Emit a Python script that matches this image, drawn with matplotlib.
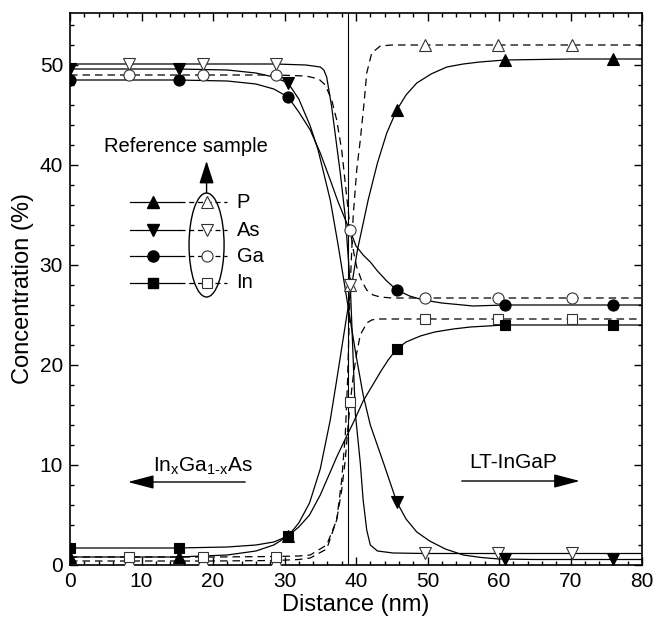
import matplotlib
matplotlib.use("Agg")
import matplotlib.pyplot as plt
from matplotlib.patches import Ellipse, FancyArrowPatch
from matplotlib.ticker import MultipleLocator

plt.rcParams['font.family'] = ['Liberation Sans', 'DejaVu Sans']
plt.rcParams['mathtext.fontset'] = 'custom'
plt.rcParams['mathtext.rm'] = 'Liberation Sans'
plt.rcParams['mathtext.it'] = 'Liberation Sans'

elements = ["P", "As", "Ga", "In"]

# LT-InGaP sample: measured points (filled symbols)
lt_x = [0, 15.2, 30.5, 45.7, 60.8, 76.0]
lt_P = [0.8, 0.8, 2.9, 45.5, 50.5, 50.6]
lt_As = [49.6, 49.6, 48.2, 6.3, 0.6, 0.6]
lt_Ga = [48.5, 48.5, 46.8, 27.5, 26.0, 26.0]
lt_In = [1.7, 1.7, 2.9, 21.6, 24.0, 24.0]

# Reference sample: measured points (open symbols)
ref_x = [8.2, 18.6, 28.8, 39.2, 49.7, 59.9, 70.2]
ref_P = [0.4, 0.4, 0.4, 28.0, 52.0, 52.0, 52.0]
ref_As = [50.1, 50.1, 50.1, 28.0, 1.2, 1.2, 1.2]
ref_Ga = [49.0, 49.0, 49.0, 33.5, 26.7, 26.7, 26.7]
ref_In = [0.8, 0.8, 0.8, 16.3, 24.6, 24.6, 24.6]

# Fitted profiles, LT-InGaP sample (solid lines)
fit_lt_P_x = [0, 15, 22, 26, 28.5, 30.5, 32, 33.5, 35, 36.4, 37.3, 38.9, 40.2, 41.7,
              43, 44.3, 45.7, 47, 48.5, 50.5, 52.7, 55, 57.3, 60.8, 70, 80]
fit_lt_P_y = [0.8, 0.8, 1.0, 1.4, 2.0, 2.9, 4.2, 6.2, 9.6, 14.5, 18.5, 25.8, 31.5, 36.5,
              40.2, 43.2, 45.5, 47.0, 48.2, 49.1, 49.8, 50.1, 50.3, 50.5, 50.6, 50.6]
fit_lt_In_x = [0, 15, 22, 26, 28.5, 30.5, 32, 33.5, 35, 36.4, 37.3, 38.9, 39.6, 41, 42,
               43.5, 44.5, 45.7, 47, 49, 51, 53.6, 56, 60.8, 70, 80]
fit_lt_In_y = [1.7, 1.7, 1.8, 2.0, 2.3, 2.9, 3.8, 5.0, 7.0, 9.3, 10.8, 13.2, 14.2, 16.4, 17.6,
               19.4, 20.5, 21.6, 22.3, 22.9, 23.3, 23.6, 23.8, 24.0, 24.0, 24.0]
fit_lt_As_x = [0, 15, 22, 26, 28.5, 30.5, 32, 33.6, 34.7, 36.4, 37.5, 38.9, 40, 41, 42,
               43.8, 45.7, 47, 48.5, 50.3, 52.5, 55, 57.5, 60, 65, 80]
fit_lt_As_y = [49.6, 49.6, 49.5, 49.2, 48.8, 48.2, 46.6, 43.9, 41.5, 36.5, 32.0, 25.8, 21.0,
               17.0, 14.0, 10.3, 6.3, 4.6, 3.3, 2.4, 1.6, 1.0, 0.75, 0.6, 0.55, 0.55]
fit_lt_Ga_x = [0, 15, 22, 26, 28.5, 30.5, 32, 33.6, 35, 36.4, 37.5, 38.7, 39.2, 40, 41,
               42, 43, 44.3, 45.7, 47.5, 49.4, 52, 56.4, 60.8, 80]
fit_lt_Ga_y = [48.5, 48.5, 48.4, 48.1, 47.6, 46.8, 45.3, 43.5, 41.2, 38.5, 36.3, 34.2, 33.4,
               31.9, 31.0, 30.3, 29.4, 28.4, 27.5, 26.9, 26.5, 26.2, 25.9, 26.0, 26.0]

# Fitted profiles, reference sample
fit_ref_P_x = [0, 10, 20, 28.8, 32, 33.6, 35.9, 37.3, 38, 38.5, 38.8, 39.2, 39.6, 40.1,
               40.6, 41.1, 41.5, 42.2, 43.4, 45, 50, 60, 70, 80]
fit_ref_P_y = [0.4, 0.4, 0.4, 0.45, 0.55, 0.7, 1.6, 4.5, 8.5, 13.0, 18.0, 28.0, 34.8, 39.5,
               42.5, 46.0, 49.2, 51.2, 51.9, 52.0, 52.0, 52.0, 52.0, 52.0]
fit_ref_In_x = [0, 10, 20, 28.8, 32, 33.6, 35.9, 37.3, 38, 38.5, 38.9, 39.2, 39.6, 40.1,
                40.6, 41.5, 42.2, 42.9, 45, 49.7, 80]
fit_ref_In_y = [0.8, 0.8, 0.8, 0.85, 0.9, 1.0, 2.0, 4.5, 7.5, 10.5, 14.0, 16.3, 18.8, 21.2,
                23.0, 24.2, 24.5, 24.6, 24.6, 24.6, 24.6]
fit_ref_As_x = [0, 10, 20, 28.8, 33, 35, 35.5, 35.9, 36.6, 37.2, 37.8, 38.5, 39.2, 39.9,
                40.6, 41.0, 41.5, 42.0, 43, 45.2, 49.7, 60, 70, 80]
fit_ref_As_y = [50.1, 50.1, 50.1, 50.1, 50.0, 49.8, 49.5, 48.8, 45.8, 42.5, 39.2, 34.8, 28.0,
                15.2, 10.2, 6.5, 3.5, 2.0, 1.4, 1.2, 1.15, 1.15, 1.15, 1.15]
fit_ref_Ga_x = [0, 10, 20, 28.8, 33, 34.8, 35.7, 36.6, 37.3, 38, 38.6, 39.2, 39.7, 40.1,
                40.8, 41.5, 42.4, 43.4, 45, 49.7, 80]
fit_ref_Ga_y = [49.0, 49.0, 49.0, 49.0, 48.9, 48.6, 48.0, 46.5, 44.5, 41.5, 37.5, 33.5, 31.2,
                29.8, 28.4, 27.5, 27.0, 26.8, 26.7, 26.7, 26.7]

interface_x = 38.9

xticks = [0, 10, 20, 30, 40, 50, 60, 70, 80]
yticks = [0, 10, 20, 30, 40, 50]

markers = {"P": "^", "As": "v", "Ga": "o", "In": "s"}
msize = {"P": 9, "As": 9, "Ga": 8, "In": 7}

lt_pts = {"P": lt_P, "As": lt_As, "Ga": lt_Ga, "In": lt_In}
ref_pts = {"P": ref_P, "As": ref_As, "Ga": ref_Ga, "In": ref_In}
lt_fit = {"P": (fit_lt_P_x, fit_lt_P_y), "As": (fit_lt_As_x, fit_lt_As_y),
          "Ga": (fit_lt_Ga_x, fit_lt_Ga_y), "In": (fit_lt_In_x, fit_lt_In_y)}
ref_fit = {"P": (fit_ref_P_x, fit_ref_P_y), "As": (fit_ref_As_x, fit_ref_As_y),
           "Ga": (fit_ref_Ga_x, fit_ref_Ga_y), "In": (fit_ref_In_x, fit_ref_In_y)}
ref_style = {"P": (0, (6, 4)), "As": "-", "Ga": (0, (6, 4)), "In": (0, (6, 4))}

fig = plt.figure(figsize=(6.56, 6.28), dpi=100)
ax = fig.add_axes([70 / 656, 1 - 565 / 628, 572 / 656, 552 / 628])

ax.axvline(interface_x, color="k", lw=0.8, zorder=1)

for el in elements:
    fx, fy = ref_fit[el]
    ax.plot(fx, fy, color="k", lw=0.9, ls=ref_style[el], zorder=2)
    fx, fy = lt_fit[el]
    ax.plot(fx, fy, color="k", lw=0.9, ls="-", zorder=2)

for el in elements:
    ax.plot(ref_x, ref_pts[el], ls="none", marker=markers[el], ms=msize[el],
            mfc="white", mec="#333333", mew=0.8, zorder=3)
    ax.plot(lt_x, lt_pts[el], ls="none", marker=markers[el], ms=msize[el],
            mfc="k", mec="k", mew=0.8, zorder=4)

# Legend block for the reference sample
leg_rows = [36.3, 33.5, 30.9, 28.2]
for el, yy in zip(elements, leg_rows):
    ax.plot([8.4, 15.4], [yy, yy], color="k", lw=0.9, ls="-", zorder=5)
    ax.plot([15.4, 21.9], [yy, yy], color="k", lw=0.9, ls=(0, (4, 3)), zorder=5)
    ax.plot([11.6], [yy], marker=markers[el], ms=msize[el], mfc="k", mec="k", zorder=6)
    ax.plot([19.1], [yy], marker=markers[el], ms=msize[el], mfc="white",
            mec="#333333", mew=0.8, zorder=6)
    ax.text(23.3, yy, el, fontsize=14.5, va="center", ha="left")

ax.add_patch(Ellipse((19.1, 32.0), 4.9, 10.4, fill=False, ec="k", lw=1.0, zorder=5))
ax.add_patch(FancyArrowPatch((19.1, 37.2), (19.1, 40.4),
                             arrowstyle="-|>,head_length=1.4,head_width=0.45",
                             mutation_scale=10, color="k", lw=1.0,
                             shrinkA=0, shrinkB=0, zorder=6))
ax.text(16.2, 41.8, "Reference sample", fontsize=14.5, ha="center", va="center")

# Layer labels with direction arrows
ax.text(18.6, 9.9, r"In$_\mathrm{x}$Ga$_\mathrm{1\text{-}x}$As", fontsize=15,
        ha="center", va="center")
ax.add_patch(FancyArrowPatch((24.5, 8.3), (8.1, 8.3),
                             arrowstyle="-|>,head_length=1.6,head_width=0.42",
                             mutation_scale=10, color="k", lw=1.0,
                             shrinkA=0, shrinkB=0))
ax.text(62.0, 10.2, "LT-InGaP", fontsize=15, ha="center", va="center")
ax.add_patch(FancyArrowPatch((54.8, 8.4), (71.3, 8.4),
                             arrowstyle="-|>,head_length=1.6,head_width=0.42",
                             mutation_scale=10, color="k", lw=1.0,
                             shrinkA=0, shrinkB=0))

ax.set_xlim(0, 80)
ax.set_ylim(0, 55.2)
ax.set_xticks(xticks)
ax.set_yticks(yticks)
ax.xaxis.set_minor_locator(MultipleLocator(2))
ax.yaxis.set_minor_locator(MultipleLocator(2))
ax.tick_params(which="both", direction="in", top=True, right=True, width=1.0)
ax.tick_params(which="major", length=6, labelsize=15, pad=5)
ax.tick_params(which="minor", length=3)
for sp in ax.spines.values():
    sp.set_linewidth(1.2)

ax.set_xlabel("Distance (nm)", fontsize=17, labelpad=2)
ax.set_ylabel("Concentration (%)", fontsize=17, labelpad=4)

fig.savefig("out.png", dpi=100)
